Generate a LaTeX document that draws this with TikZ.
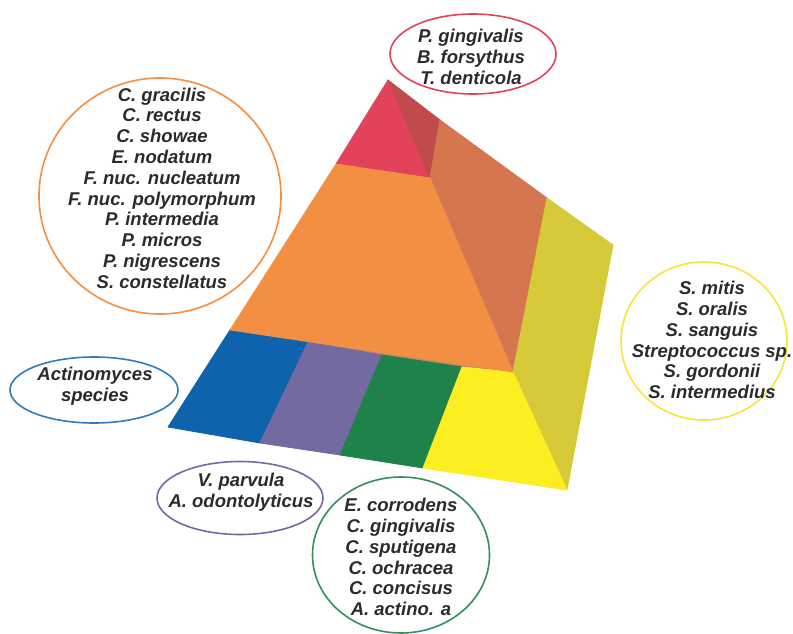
\documentclass[tikz,border=0pt]{standalone}
\usepackage{fontspec}
\setmainfont{Liberation Sans}
\usetikzlibrary{shapes.geometric}
\definecolor{cred}{HTML}{E2435A}
\definecolor{cdred}{HTML}{C04A4C}
\definecolor{corange}{HTML}{F28F43}
\definecolor{cbrown}{HTML}{D6764E}
\definecolor{colive}{HTML}{D6CA38}
\definecolor{cyellow}{HTML}{FCEE21}
\definecolor{cyring}{HTML}{F4E63A}
\definecolor{cblue}{HTML}{0E63AC}
\definecolor{cpurple}{HTML}{746AA2}
\definecolor{cgreen}{HTML}{1E824A}
\definecolor{ctext}{HTML}{2B2B2B}
\tikzset{
  ring/.style={ellipse, draw=#1, line width=1.6pt, fill=white, inner sep=0pt},
  species/.style={align=center, inner sep=0pt, text=ctext,
    font=\fontsize{18.5}{20.8}\selectfont\bfseries\itshape},
  face/.style={fill=#1, draw=#1, line width=0.8pt, line join=round}
}
\begin{document}
\begin{tikzpicture}[x=1pt,y=-1pt]
\useasboundingbox (0,0) rectangle (793,634);
% pyramid corners
\coordinate (A) at (388,80);
\coordinate (R1) at (336,164);
\coordinate (R2) at (430,178);
\coordinate (D1) at (440,120);
\coordinate (S1) at (547,198);
\coordinate (S2) at (613,245);
\coordinate (BR) at (567,490);
\coordinate (M) at (513,372);
\coordinate (L) at (230,330);
\coordinate (T1) at (308,342);
\coordinate (T2) at (382,355);
\coordinate (T3) at (462,367);
\coordinate (B0) at (168,427);
\coordinate (B1) at (260,443);
\coordinate (B2) at (340,455);
\coordinate (B3) at (423,468);
% underlay against seams
\fill[corange!70!cpurple] (L) -- (M) -- (BR) -- (B0) -- cycle;
% faces
\filldraw[face=cred] (A) -- (R2) -- (R1) -- cycle;
\filldraw[face=cdred] (A) -- (D1) -- (R2) -- cycle;
\filldraw[face=cbrown] (D1) -- (S1) -- (M) -- (R2) -- cycle;
\filldraw[face=colive] (S1) -- (S2) -- (BR) -- (M) -- cycle;
\filldraw[face=cblue] (L) -- (T1) -- (B1) -- (B0) -- cycle;
\filldraw[face=cpurple] (T1) -- (T2) -- (B2) -- (B1) -- cycle;
\filldraw[face=cgreen] (T2) -- (T3) -- (B3) -- (B2) -- cycle;
\filldraw[face=cyellow] (T3) -- (M) -- (BR) -- (B3) -- cycle;
\filldraw[face=corange] (R1) -- (R2) -- (M) -- (L) -- cycle;
% rings
\node[ring=cred, minimum width=166pt, minimum height=80pt] (redring) at (473,54) {};
\node[species] (redtext) at (471,57) {P. gingivalis\\B. forsythus\\T. denticola};
\node[ring=corange, minimum width=242pt, minimum height=236pt] (orangering) at (160,196) {};
\node[species] (orangetext) at (162,188) {C. gracilis\\C. rectus\\C. showae\\E. nodatum\\F. nuc. nucleatum\\F. nuc. polymorphum\\P. intermedia\\P. micros\\P. nigrescens\\S. constellatus};
\node[ring=cyring, minimum width=166pt, minimum height=158pt] (yellowring) at (704,341) {};
\node[species] (yellowtext) at (712,340) {S. mitis\\S. oralis\\S. sanguis\\Streptococcus sp.\\S. gordonii\\S. intermedius};
\node[ring=cblue!85!white, minimum width=168pt, minimum height=66pt] (bluering) at (94,390) {};
\node[species] (bluetext) at (95,386) {Actinomyces\\species};
\node[ring=cpurple, minimum width=166pt, minimum height=73pt] (purplering) at (240,498) {};
\node[species] (purpletext) at (241,492) {V. parvula\\A. odontolyticus};
\node[ring=cgreen!90!white, minimum width=177pt, minimum height=156pt] (greenring) at (401,555) {};
\node[species] (greentext) at (401,557) {E. corrodens\\C. gingivalis\\C. sputigena\\C. ochracea\\C. concisus\\A. actino. a};
\end{tikzpicture}
\end{document}
